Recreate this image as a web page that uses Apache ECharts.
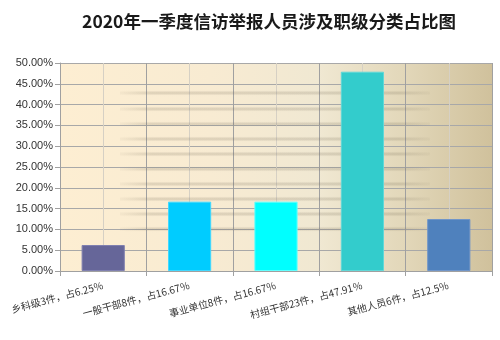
<!DOCTYPE html>
<html><head><meta charset="utf-8">
<script src="https://cdn.jsdelivr.net/npm/echarts@6/dist/echarts.min.js"></script>
<style>html,body{margin:0;padding:0;background:#fff}#c{width:500px;height:340px}</style>
</head><body><div id="c"></div>
<script>
const titleText = '2020年一季度信访举报人员涉及职级分类占比图';
const categories = ['乡科级3件，占6.25％','一般干部8件，占16.67％','事业单位8件，占16.67％','村组干部23件，占47.91％','其他人员6件，占12.5％'];
const values = [6.25, 16.67, 16.67, 47.91, 12.5];
const barColors = ['#666699','#00CCFF','#00FFFF','#33CCCC','#4F81BD'];
const barBorders = ['#8080B0','#40D8FF','#60FFFF','#60D8D8','#7095C8'];

const chart = echarts.init(document.getElementById('c'), null, {renderer:'canvas'});
const gridL = 60, gridR = 8, gridT = 63, gridB = 69;
// decorative blurred background stripes (part of the plot-area background image)
const stripeYs = [93,109,124,139,154,169,184,199,214,229];
const graphics = stripeYs.map(y => ({
  type:'rect', z:1, silent:true,
  shape:{x:120, y:y-1.5, width:310, height:3},
  style:{fill: new echarts.graphic.LinearGradient(0,0,1,0,[
    {offset:0,color:'rgba(110,100,80,0.04)'},
    {offset:0.1,color:'rgba(110,100,80,0.16)'},
    {offset:0.9,color:'rgba(110,100,80,0.16)'},
    {offset:1,color:'rgba(110,100,80,0.04)'}]),
    shadowBlur:3, shadowColor:'rgba(110,100,80,0.25)'}
}));

chart.setOption({
  animation:false,
  backgroundColor:'#ffffff',
  title:{text:titleText, left:264, top:8, textAlign:'center',
    textStyle:{fontFamily:'"Noto Sans CJK SC", sans-serif', fontWeight:'bold', fontSize:17.5, color:'#1a1a1a'}},
  grid:{left:gridL, right:gridR, top:gridT, bottom:gridB, show:true, borderWidth:0,
    backgroundColor:new echarts.graphic.LinearGradient(0,0,1,0,[
      {offset:0,color:'#FDEED2'},
      {offset:0.35,color:'#F8EBD2'},
      {offset:0.6,color:'#F0E8D2'},
      {offset:0.8,color:'#E2D7B9'},
      {offset:1,color:'#D0C19C'}])},
  graphic: graphics,
  xAxis:[{
    type:'category', data:categories, boundaryGap:true,
    axisLine:{show:true, lineStyle:{color:'#A0A0A0', width:1}},
    axisTick:{show:true, length:5, lineStyle:{color:'#A0A0A0'}},
    axisLabel:{rotate:15, margin:14, fontSize:10, color:'#333',
      fontFamily:'"Noto Sans CJK SC", sans-serif'},
    splitLine:{show:false}
  },{
    type:'value', min:0, max:5, interval:0.5, position:'top',
    axisLine:{show:false}, axisTick:{show:false}, axisLabel:{show:false},
    splitLine:{show:true, lineStyle:{color:['#A0A0A0','#D6D0C4'], width:1}}
  }],
  yAxis:{
    type:'value', min:0, max:50, interval:5,
    axisLine:{show:true, lineStyle:{color:'#A0A0A0'}},
    axisTick:{show:true, length:5, lineStyle:{color:'#A0A0A0'}},
    axisLabel:{formatter:v=>v.toFixed(2)+'%', fontSize:11, color:'#333', margin:7,
      fontFamily:'Arial, "Liberation Sans", sans-serif'},
    splitLine:{show:true, lineStyle:{color:'#A8A8A8', width:1}}
  },
  series:[{
    type:'bar', xAxisIndex:0, barWidth:'50%', z:3,
    data: values.map((v,i)=>({value:v, itemStyle:{color:barColors[i], borderColor:barBorders[i], borderWidth:1}}))
  }]
});
</script></body></html>
